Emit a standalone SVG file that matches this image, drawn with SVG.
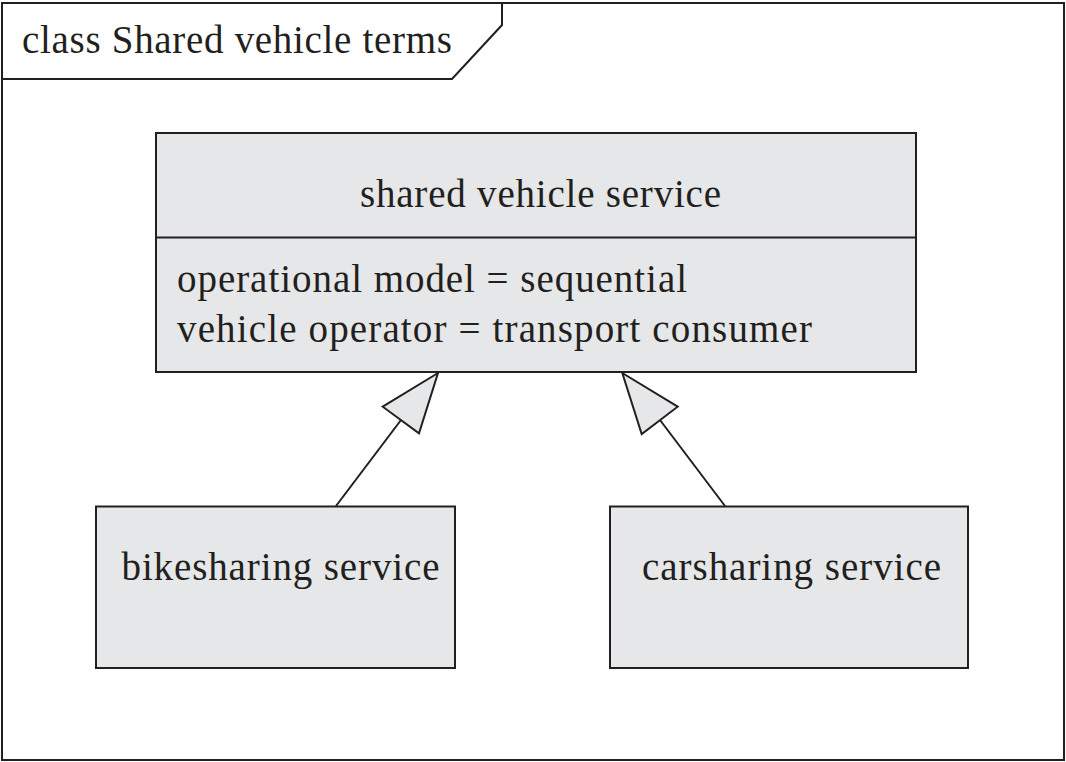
<svg xmlns="http://www.w3.org/2000/svg" width="1066" height="762" viewBox="0 0 1066 762">
<style>
.frame{fill:#ffffff;stroke:#231f20;stroke-width:2}
.box{fill:#e6e7e8;stroke:#231f20;stroke-width:2}
.line{fill:none;stroke:#231f20;stroke-width:2}
.head{fill:#e6e7e8;stroke:#231f20;stroke-width:2;stroke-linejoin:miter}
text{font-family:"Liberation Serif","DejaVu Serif",serif;font-size:39px;fill:#231f20}
</style>
<rect x="0" y="0" width="1066" height="762" fill="#ffffff"/>
<g id="frame">
<rect class="frame" x="2" y="3" width="1062" height="757"/>
<path class="line" d="M2,79 L452,79 L502,25 L502,3"/>
<text x="22" y="53" textLength="430" lengthAdjust="spacing">class Shared vehicle terms</text>
</g>
<g id="connectors">
<line class="line" x1="336" y1="506" x2="401" y2="420"/>
<polygon class="head" points="438,373 382.7,406.7 419,433.3"/>
<line class="line" x1="725" y1="506" x2="660" y2="420"/>
<polygon class="head" points="622.3,373 677.7,406.7 641.7,434"/>
</g>
<g id="shared-vehicle-service">
<rect class="box" x="156" y="133" width="760" height="239"/>
<line class="line" x1="156" y1="237.5" x2="916" y2="237.5"/>
<text x="360" y="207" textLength="361" lengthAdjust="spacing">shared vehicle service</text>
<text x="177" y="292" textLength="510" lengthAdjust="spacing">operational model = sequential</text>
<text x="177" y="342" textLength="635" lengthAdjust="spacing">vehicle operator = transport consumer</text>
</g>
<g id="bikesharing-service">
<rect class="box" x="96" y="506.5" width="359" height="161.5"/>
<text x="121.5" y="580" textLength="318" lengthAdjust="spacing">bikesharing service</text>
</g>
<g id="carsharing-service">
<rect class="box" x="610" y="506.5" width="358" height="161.5"/>
<text x="642" y="580" textLength="299" lengthAdjust="spacing">carsharing service</text>
</g>
</svg>
